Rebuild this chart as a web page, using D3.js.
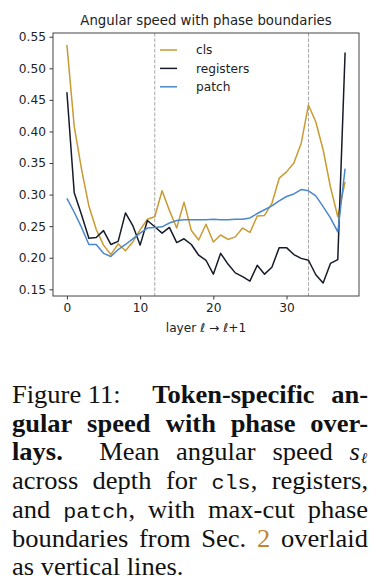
<!DOCTYPE html>
<html><head><meta charset="utf-8">
<script src="https://cdn.jsdelivr.net/npm/d3@7"></script>
<style>
html,body{margin:0;padding:0;background:#fff;width:380px;height:587px;overflow:hidden}
svg{position:absolute;left:0;top:0}
</style></head>
<body>
<svg id="chart" width="380" height="587"></svg>
<script>
const layers = d3.range(0, 39);
const cls = [0.537,0.408,0.340,0.282,0.245,0.220,0.205,0.222,0.211,0.225,0.244,0.261,0.265,0.306,0.275,0.247,0.288,0.243,0.228,0.253,0.225,0.236,0.229,0.233,0.247,0.240,0.266,0.267,0.286,0.326,0.336,0.350,0.381,0.442,0.415,0.371,0.312,0.265,0.320];
const registers = [0.462,0.303,0.268,0.231,0.232,0.243,0.221,0.226,0.271,0.251,0.220,0.259,0.249,0.239,0.248,0.224,0.230,0.221,0.204,0.196,0.174,0.207,0.190,0.176,0.170,0.163,0.188,0.174,0.185,0.216,0.216,0.205,0.199,0.196,0.173,0.160,0.191,0.197,0.525];
const patch = [0.294,0.272,0.248,0.221,0.221,0.207,0.202,0.213,0.221,0.230,0.239,0.247,0.248,0.249,0.255,0.259,0.260,0.260,0.260,0.260,0.261,0.260,0.260,0.261,0.261,0.263,0.270,0.276,0.282,0.290,0.297,0.301,0.308,0.306,0.298,0.281,0.263,0.241,0.341];
const boundaries = [12, 33];
const xTicks = [0, 10, 20, 30];
const yTicks = [0.15, 0.20, 0.25, 0.30, 0.35, 0.40, 0.45, 0.50, 0.55];
const seriesNames = ["cls", "registers", "patch"];
const seriesColors = ["#c99b32", "#151b29", "#4a87cc"];

const svg = d3.select("#chart");
const L = 53, R = 359, T = 33, B = 296;
const x = d3.scaleLinear().domain([-1.9, 39.9]).range([L, R]);
const y = d3.scaleLinear().domain([0.1394, 0.5559]).range([B, T]);
const font = "'DejaVu Sans', sans-serif";

// boundaries
svg.selectAll("line.bd").data(boundaries).join("line")
  .attr("x1", d => x(d)).attr("x2", d => x(d)).attr("y1", T).attr("y2", B)
  .attr("stroke", "#a8a8a8").attr("stroke-width", 1).attr("stroke-dasharray", "3.7,1.6");

const lineGen = d3.line().x((d, i) => x(layers[i])).y(d => y(d));
[cls, registers, patch].forEach((s, k) => {
  svg.append("path").datum(s).attr("d", lineGen).attr("fill", "none")
    .attr("stroke", seriesColors[k]).attr("stroke-width", 1.5).attr("stroke-linejoin", "round");
});

// axes
const xa = svg.append("g").attr("transform", `translate(0,${B})`)
  .call(d3.axisBottom(x).tickValues(xTicks).tickSize(3.5).tickPadding(3.5));
const ya = svg.append("g").attr("transform", `translate(${L},0)`)
  .call(d3.axisLeft(y).tickValues(yTicks).tickFormat(d3.format(".2f")).tickSize(3.5).tickPadding(3.5));
[xa, ya].forEach(g => {
  g.select(".domain").remove();
  g.selectAll(".tick line").attr("stroke", "#222").attr("stroke-width", 0.9);
  g.selectAll(".tick text").attr("font-family", font).attr("font-size", 12.2).attr("fill", "#222");
});
svg.append("rect").attr("x", L).attr("y", T).attr("width", R - L).attr("height", B - T)
  .attr("fill", "none").attr("stroke", "#444").attr("stroke-width", 1);

// title
svg.append("text").attr("x", (L + R) / 2).attr("y", 25).attr("text-anchor", "middle")
  .attr("font-family", font).attr("font-size", 13.3).attr("fill", "#222")
  .text("Angular speed with phase boundaries");

// x label
const xl = svg.append("text").attr("x", (L + R) / 2).attr("y", 332).attr("text-anchor", "middle")
  .attr("font-family", font).attr("font-size", 12.2).attr("fill", "#222");
xl.append("tspan").text("layer ");
xl.append("tspan").attr("font-style", "italic").text("ℓ");
xl.append("tspan").text(" → ");
xl.append("tspan").attr("font-style", "italic").text("ℓ");
xl.append("tspan").text("+1");

// legend
const lg = svg.append("g");
seriesNames.forEach((n, k) => {
  const yy = 50 + k * 18.4;
  lg.append("line").attr("x1", 160).attr("x2", 177).attr("y1", yy).attr("y2", yy)
    .attr("stroke", seriesColors[k]).attr("stroke-width", 1.5);
  lg.append("text").attr("x", 196).attr("y", yy + 4.3).attr("font-family", font)
    .attr("font-size", 12.2).attr("fill", "#222").text(n);
});

// caption: lines of words; each word = list of [text, style]; gap weights after each word
const capLines = [
  [[["Figure\u00a011:",""]],[["Token-specific","b"]],[["an-","b"]]],
  [[["gular","b"]],[["speed","b"]],[["with","b"]],[["phase","b"]],[["over-","b"]]],
  [[["lays.","b"]],[["Mean",""]],[["angular",""]],[["speed",""]],[["s","i"],["ℓ","sub"]]],
  [[["across",""]],[["depth",""]],[["for",""]],[["cls","tt"],[",",""]],[["registers,",""]]],
  [[["and",""]],[["patch","tt"],[",",""]],[["with",""]],[["max-cut",""]],[["phase",""]]],
  [[["boundaries",""]],[["from",""]],[["Sec.",""]],[["2","ref"]],[["overlaid",""]]],
  [[["as",""]],[["vertical",""]],[["lines.",""]]]
];
const gapWeights = [[1.9,1],[1,1,1,1],[2.2,1,1,1],[1,1,1,1],[1,1,1,1],[1,1,1,1],[1,1]];
const capFont = "'Liberation Serif','Times New Roman',serif";
const capSize = 25, sx = 1.06, capLeft = 12, capRight = 368, base0 = 403, lead = 28.7;
const capG = svg.append("g");
capLines.forEach((words, li) => {
  const by = base0 + li * lead;
  const nodes = words.map(w => {
    const t = capG.append("text").attr("font-family", capFont).attr("font-size", capSize).attr("fill", "#111")
      .attr("transform", `translate(0,${by}) scale(${sx},1)`);
    w.forEach(([s, st]) => {
      const ts = t.append("tspan").text(s);
      if (st === "b") ts.attr("font-weight", "bold");
      if (st === "i") ts.attr("font-style", "italic");
      if (st === "tt") ts.attr("font-family", "'Liberation Mono','DejaVu Sans Mono',monospace").attr("font-size", 20.5);
      if (st === "ref") ts.attr("fill", "#c2852c");
      if (st === "sub") ts.attr("font-style", "italic").attr("font-size", 15).attr("dy", 2.5).attr("dx", 1);
    });
    return t;
  });
  const widths = nodes.map(n => n.node().getBBox().width * sx);
  const total = d3.sum(widths);
  const last = li === capLines.length - 1;
  const gw = gapWeights[li];
  const unit = last ? 6.6 : (capRight - capLeft - total) / d3.sum(gw);
  let cx = capLeft;
  nodes.forEach((n, i) => {
    n.attr("transform", `translate(${cx},${by}) scale(${sx},1)`);
    cx += widths[i] + (i < gw.length ? gw[i] * unit : 0);
  });
});
</script>
</body></html>
